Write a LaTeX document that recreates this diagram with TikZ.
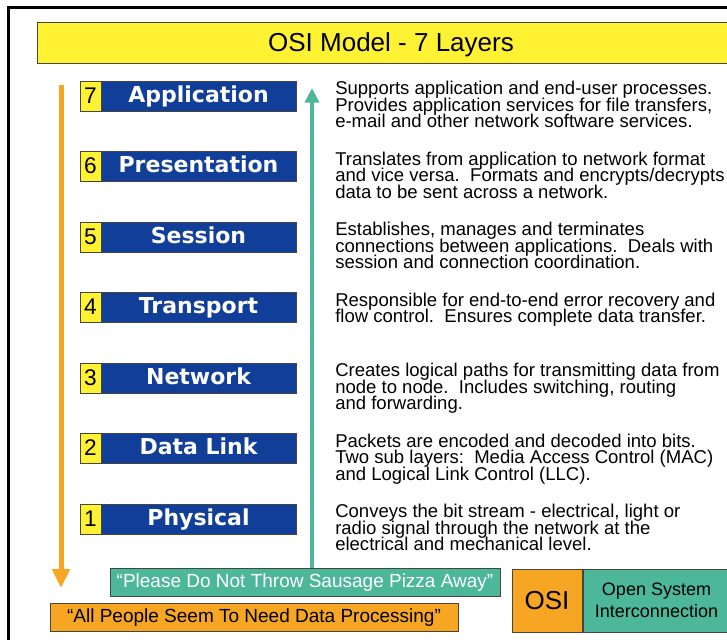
\documentclass[tikz,border=0pt]{standalone}
\usepackage{fontspec}
\setmainfont{Liberation Sans}
\newfontfamily\layerfont{DejaVu Sans}
\usetikzlibrary{arrows.meta}

\definecolor{titleyellow}{RGB}{255,242,50}
\definecolor{layerblue}{RGB}{16,62,152}
\definecolor{mnemorange}{RGB}{247,166,35}
\definecolor{mnemteal}{RGB}{77,183,154}
\definecolor{boxedge}{RGB}{70,70,60}

% keep multi-line texts at their fixed baseline distance
\lineskiplimit=-20pt
\lineskip=0pt

\begin{document}
\begin{tikzpicture}[x=0.75pt,y=-0.75pt,
  boxline/.style={draw=boxedge, line width=0.75pt},
  numbox/.style={boxline, fill=titleyellow, minimum width=15.75pt,
    minimum height=22.5pt, inner sep=0pt, text height=12pt, text depth=1.5pt,
    font=\fontsize{17}{18}\selectfont},
  namebox/.style={boxline, fill=layerblue, text=white, minimum width=146.25pt,
    minimum height=22.5pt, inner sep=0pt, text height=12pt, text depth=2.5pt,
    font=\layerfont\bfseries\fontsize{16.5}{18}\selectfont},
  desc/.style={anchor=north west, inner sep=0pt, align=left,
    font=\fontsize{13.9}{12.4}\selectfont},
  mnembox/.style={boxline, minimum height=21pt, inner sep=0pt,
    text height=10.3pt, text depth=2.5pt, font=\fontsize{14.25}{16}\selectfont},
  downarrow/.style={draw=mnemorange, line width=3.75pt,
    -{Triangle[length=14.25pt, width=12.75pt]}},
  uparrow/.style={draw=mnemteal, line width=3pt,
    -{Triangle[length=11pt, width=10.5pt]}}
]
\useasboundingbox (0,0) rectangle (727,639);

% outer frame (runs off the page on the right and bottom)
\draw[line width=2.25pt] (8,660) -- (8,7) -- (760,7);

% title bar
\node[boxline, fill=titleyellow, minimum width=531pt, minimum height=30.75pt,
  inner sep=0pt, text height=14pt, text depth=0pt,
  font=\fontsize{19.5}{22}\selectfont] (title) at (391,42.5) {OSI Model - 7 Layers};

% the seven layers
\foreach \n/\lname/\ltext [count=\i from 0] in {
  7/Application/{Supports application and end-user processes.\\Provides application services for file transfers,\\e-mail and other network software services.},
  6/Presentation/{Translates from application to network format\\and vice versa.\ \ Formats and encrypts/decrypts\\data to be sent across a network.},
  5/Session/{Establishes, manages and terminates\\connections between applications.\ \ Deals with\\session and connection coordination.},
  4/Transport/{Responsible for end-to-end error recovery and\\flow control.\ \ Ensures complete data transfer.},
  3/Network/{Creates logical paths for transmitting data from\\node to node.\ \ Includes switching, routing\\and forwarding.},
  2/Data Link/{Packets are encoded and decoded into bits.\\Two sub layers:\ \ Media Access Control (MAC)\\and Logical Link Control (LLC).},
  1/Physical/{Conveys the bit stream - electrical, light or\\radio signal through the network at the\\electrical and mechanical level.}} {
  \pgfmathsetmacro{\yc}{96+70.5*\i}
  \node[numbox] (num\n) at (90.5,\yc) {\n};
  \node[namebox] (layer\n) at (198.5,\yc) {\lname};
  \node[desc] (desc\n) at (335,\yc-15) {\ltext};
}

% mnemonic boxes
\node[mnembox, fill=mnemteal, text=white, minimum width=292.5pt] (pdnt) at (305,582)
  {“Please Do Not Throw Sausage Pizza Away”};
\node[mnembox, fill=mnemorange, minimum width=306pt] (apsn) at (254,617)
  {“All People Seem To Need Data Processing”};

% OSI legend
\node[boxline, fill=mnemorange, minimum width=52.5pt, minimum height=47.25pt,
  inner sep=0pt, font=\fontsize{19.5}{22}\selectfont] (osi) at (547,600.5) {OSI};
\node[boxline, fill=mnemteal, anchor=west, minimum width=110.25pt,
  minimum height=47.25pt, inner sep=0pt, align=center,
  font=\fontsize{13.5}{16.5}\selectfont] (osiname) at (osi.east)
  {Open System\\Interconnection};

% direction arrows
\coordinate (downtop) at (61,85);
\coordinate (downtip) at (61,588);
\draw[downarrow] (downtop) -- (downtip);
\coordinate (uptip) at (312,88);
\draw[uparrow] (pdnt.north -| uptip) -- (uptip);
\end{tikzpicture}
\end{document}
